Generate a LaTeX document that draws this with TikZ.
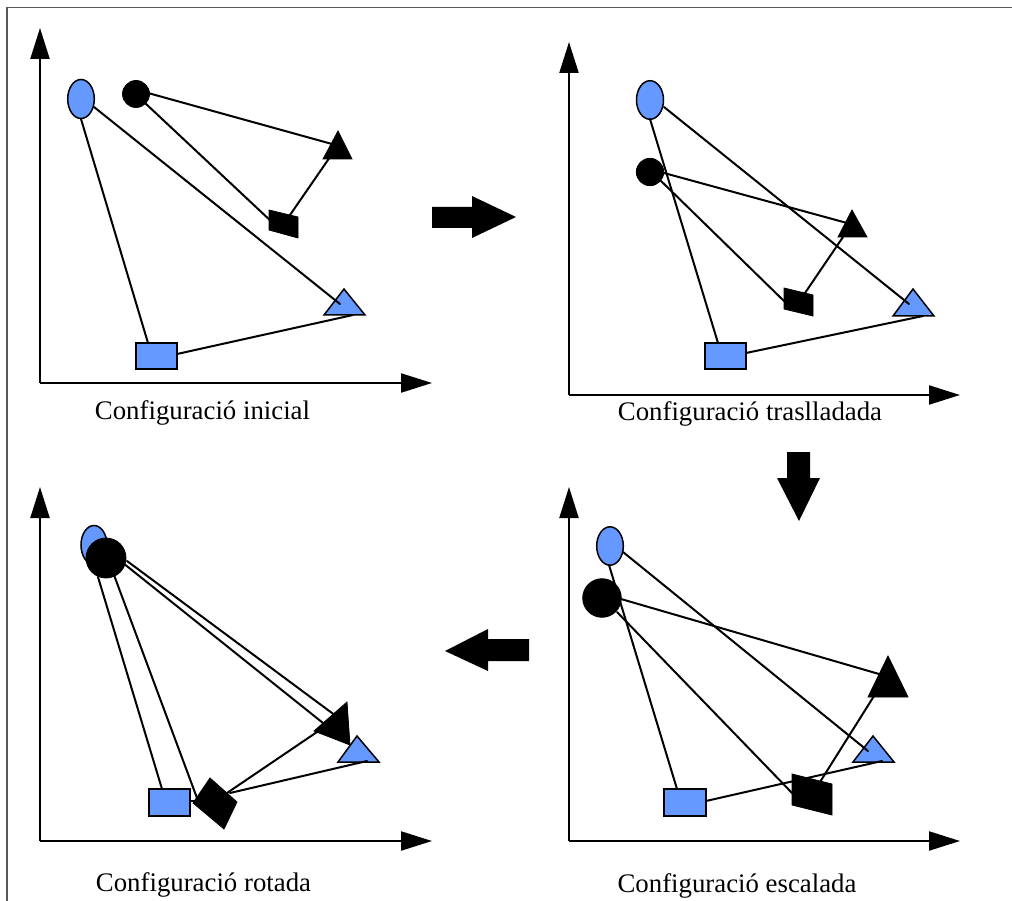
\documentclass[tikz,border=0pt]{standalone}
\usepackage{fontspec}
\setmainfont{Liberation Serif}
\usetikzlibrary{arrows.meta}
\definecolor{shapeblue}{RGB}{102,153,255}
\tikzset{
  frameline/.style={draw=black!65, line width=1.3pt},
  axis/.style={line width=2.2pt, -{Triangle[length=31pt,width=19pt]}},
  link/.style={line width=2pt, line cap=round},
  blueshape/.style={fill=shapeblue, draw=black, line width=1.5pt},
  blackshape/.style={fill=black, draw=black, line width=0.8pt},
  bigarrow/.style={fill=black},
  caption/.style={anchor=base, font=\fontsize{26.8}{30}\selectfont, inner sep=0pt}
}
\begin{document}
\begin{tikzpicture}[x=1pt,y=-1pt]
\useasboundingbox (0,0) rectangle (1012,901);
% frame
\draw[frameline] (7,901) -- (7,7.5) -- (1012,7.5);

% ===== Panel 1 =====
\coordinate (o1) at (40,383);
\draw[axis] (o1) -- (40,28);
\draw[axis] (o1) -- (432,383);
\draw[blueshape] (81,99) ellipse [x radius=13.3, y radius=19.5];
\fill[blackshape] (136,94) circle [radius=13.5];
\fill[blackshape] (338,131) -- (352,159) -- (323,159) -- cycle;
\fill[blackshape] (269,210) -- (298,217) -- (298,238) -- (269,230) -- cycle;
\draw[blueshape] (344,289) -- (365,315) -- (324,315) -- cycle;
\draw[blueshape] (136,343) rectangle (177,369);
\coordinate (e1b) at (81,119); \coordinate (r1t) at (148,343);
\coordinate (e1r) at (94,107); \coordinate (bt1i) at (340,304);
\coordinate (c1a) at (145,103); \coordinate (q1a) at (273,223);
\coordinate (c1b) at (148,93); \coordinate (k1a) at (332,144);
\coordinate (q1b) at (290,215); \coordinate (k1b) at (330,157);
\coordinate (r1r) at (177,354); \coordinate (bt1b) at (353,315);
\draw[link] (e1b) -- (r1t);
\draw[link] (e1r) -- (bt1i);
\draw[link] (c1a) -- (q1a);
\draw[link] (c1b) -- (k1a);
\draw[link] (q1b) -- (k1b);
\draw[link] (r1r) -- (bt1b);
\node[caption] (cap1) at (202.5,419) {Configuració inicial};

% ===== Panel 2 =====
\coordinate (o2) at (569,395);
\draw[axis] (o2) -- (569,42);
\draw[axis] (o2) -- (960,395);
\draw[blueshape] (650,100) ellipse [x radius=13.5, y radius=19.3];
\fill[blackshape] (650,172) circle [radius=13.7];
\fill[blackshape] (852,210) -- (867,237) -- (838,237) -- cycle;
\fill[blackshape] (784,288) -- (813,295) -- (813,316) -- (784,309) -- cycle;
\draw[blueshape] (913,289) -- (934,316) -- (893,316) -- cycle;
\draw[blueshape] (705,343) rectangle (746,369);
\coordinate (e2b) at (650,119); \coordinate (r2t) at (718,343);
\coordinate (e2r) at (664,107); \coordinate (bt2i) at (909,304);
\coordinate (c2a) at (664,173); \coordinate (k2a) at (847,223);
\coordinate (c2b) at (660,180); \coordinate (q2a) at (785,302);
\coordinate (q2b) at (805,293); \coordinate (k2b) at (843,237);
\coordinate (r2r) at (746,353); \coordinate (bt2b) at (923,316);
\draw[link] (e2b) -- (r2t);
\draw[link] (e2r) -- (bt2i);
\draw[link] (c2a) -- (k2a);
\draw[link] (c2b) -- (q2a);
\draw[link] (q2b) -- (k2b);
\draw[link] (r2r) -- (bt2b);
\node[caption] (cap2) at (750,420) {Configuració traslladada};

% ===== Panel 3 =====
\coordinate (o3) at (40,841);
\draw[axis] (o3) -- (40,487);
\draw[axis] (o3) -- (432,841);
\draw[blueshape] (94,545) ellipse [x radius=13, y radius=19.5];
\fill[blackshape] (106,558) circle [radius=20];
\fill[blackshape] (347,702) -- (350,745) -- (314,731) -- cycle;
\draw[blueshape] (357,736) -- (379,762) -- (338,762) -- cycle;
\draw[blueshape] (149,789) rectangle (190,816);
\fill[blackshape] (210,778) -- (237,802) -- (224,829) -- (193,803) -- cycle;
\coordinate (e3b) at (98,577); \coordinate (r3t) at (162,789);
\coordinate (c3a) at (114,575); \coordinate (q3a) at (197,798);
\coordinate (e3r) at (123,563); \coordinate (bt3i) at (348,743);
\coordinate (c3b) at (127,561); \coordinate (k3a) at (336,716);
\coordinate (q3b) at (227,793); \coordinate (k3b) at (317,732);
\coordinate (q3c) at (230,793); \coordinate (bt3b) at (367,761);
\coordinate (r3r) at (190,801); \coordinate (q3d) at (195,801);
\draw[link] (e3b) -- (r3t);
\draw[link] (c3a) -- (q3a);
\draw[link] (e3r) -- (bt3i);
\draw[link] (c3b) -- (k3a);
\draw[link] (q3b) -- (k3b);
\draw[link] (q3c) -- (bt3b);
\draw[link] (r3r) -- (q3d);
\node[caption] (cap3) at (203.5,891) {Configuració rotada};

% ===== Panel 4 =====
\coordinate (o4) at (569,841);
\draw[axis] (o4) -- (569,487);
\draw[axis] (o4) -- (960,841);
\draw[blueshape] (610,546) ellipse [x radius=13.3, y radius=19.2];
\fill[blackshape] (602,598) circle [radius=19.3];
\fill[blackshape] (888,656) -- (908,697) -- (868,697) -- cycle;
\draw[blueshape] (873,736) -- (894,762) -- (853,762) -- cycle;
\draw[blueshape] (664,789) rectangle (706,816);
\coordinate (e4b) at (609,565); \coordinate (r4t) at (677,789);
\coordinate (e4r) at (623,552); \coordinate (bt4i) at (868,751);
\coordinate (c4a) at (621,599); \coordinate (k4a) at (879,674);
\coordinate (c4b) at (617,612); \coordinate (q4a) at (793,794);
\coordinate (q4b) at (820,782); \coordinate (k4b) at (874,696);
\coordinate (r4r) at (706,801); \coordinate (bt4b) at (882,761);
\draw[link] (e4b) -- (r4t);
\draw[link] (e4r) -- (bt4i);
\draw[link] (c4a) -- (k4a);
\draw[link] (c4b) -- (q4a);
\fill[blackshape] (792,774) -- (832,784) -- (832,815) -- (792,805) -- cycle;
\draw[link] (q4b) -- (k4b);
\draw[link] (r4r) -- (bt4b);
\node[caption] (cap4) at (737,892) {Configuració escalada};

% ===== Block arrows =====
\fill[bigarrow] (432,207) -- (472,207) -- (472,196) -- (516,217) -- (472,238) -- (472,228) -- (432,228) -- cycle;
\fill[bigarrow] (787,452) -- (810,452) -- (810,478) -- (820,478) -- (799,521) -- (777,478) -- (787,478) -- cycle;
\fill[bigarrow] (529,639) -- (488,639) -- (488,629) -- (445,651) -- (488,671) -- (488,661) -- (529,661) -- cycle;
\end{tikzpicture}
\end{document}
